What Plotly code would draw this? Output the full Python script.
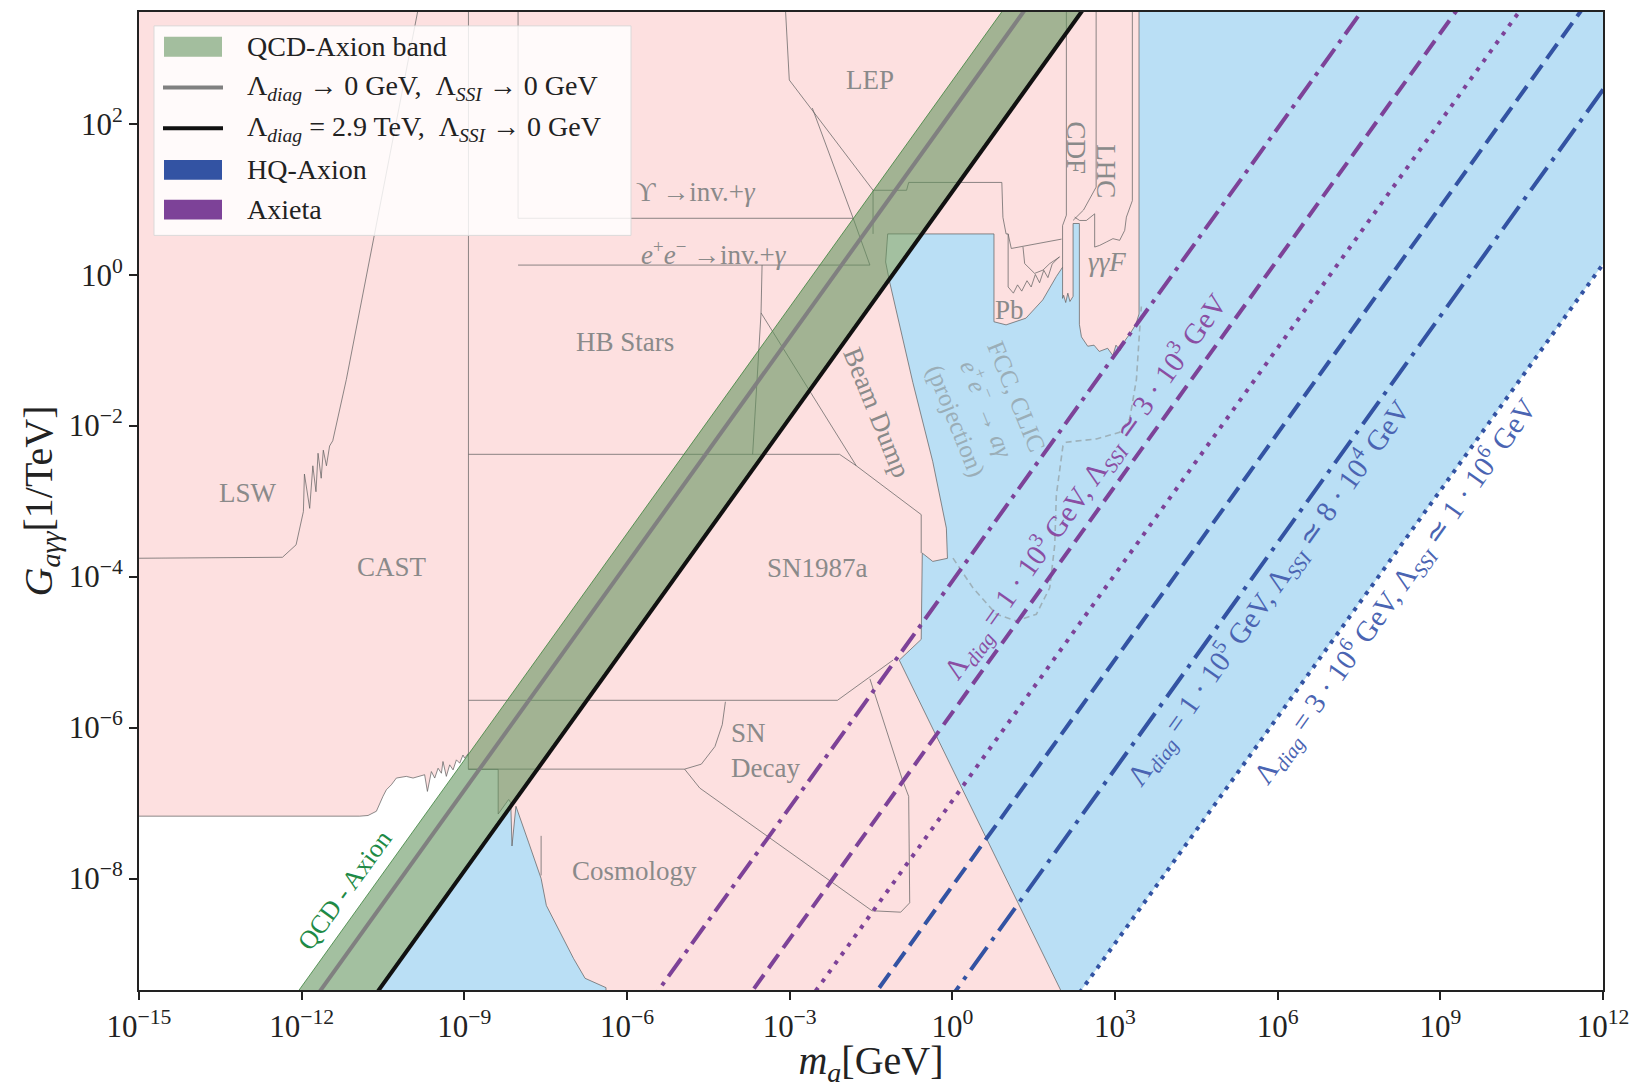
import numpy as np
import plotly.graph_objects as go

FONT = "Liberation Serif, Times New Roman, serif"

# ---------------- data (all values are log10) ----------------
X_RANGE = [-15.0, 12.0]      # log10 m_a [GeV]
Y_RANGE = [-9.477, 3.48]     # log10 G [1/TeV]
x_tick_exp = [-15, -12, -9, -6, -3, 0, 3, 6, 9, 12]
y_tick_exp = [-8, -6, -4, -2, 0, 2]

# straight lines: log10 G = log10 m + c
qcd_band_c = [1.13, 2.57]          # QCD-axion band edges
qcd_line_c = 2.17                  # Λdiag -> 0, ΛSSI -> 0
lambda29_c = 1.10                  # Λdiag = 2.9 TeV
axieta_c = [-4.06, -5.80, -6.97]   # dashdot, dash, dot
hq_c = [-8.10, -9.55, -11.86]      # dash, dashdot, dot

# excluded (pink) region outline
excl_m = [-15.2, 3.443, 3.443, 3.385, 3.289, 3.192, 3.096, 3.018, 2.961, 2.864, 2.709, 2.613, 2.497, 2.381, 2.343,
          2.343, 2.227, 2.227, 2.169, 2.130, 2.091, 2.053, 2.033, 2.033,
          1.918, 1.667, 1.358, 0.991, 0.768, 0.768, -1.192,
          -1.230, -1.153, -0.728, -0.361, -0.110, -0.090, -0.361, -0.554, -0.574, -0.979,
          2.08, -6.39,
          -6.387, -6.773, -6.985, -7.487, -7.584, -7.816, -8.048, -8.121, -8.144, -8.183,
          -8.376, -8.376, -8.926,
          -8.926, -8.994, -9.025, -9.085, -9.146, -9.208, -9.270, -9.332, -9.394, -9.423, -9.484, -9.546,
          -9.608, -9.681, -9.732, -9.822, -9.946, -10.070, -10.253, -10.346, -10.438, -10.500, -10.622,
          -10.776, -10.929, -15.2]
excl_g = [3.6, 3.6, -0.521, -0.658, -0.769, -0.865, -1.003, -0.934, -1.072, -0.975, -1.017, -0.934, -0.948, -0.824, -0.658,
          0.678, 0.678, -0.287, -0.355, -0.245, -0.369, -0.273, -0.314, 0.099,
          -0.025, -0.335, -0.576, -0.665, -0.624, 0.540, 0.540,
          0.168, -0.107, -1.430, -2.477, -3.358, -3.758, -3.799, -3.689, -4.832, -5.107,
          -9.6, -9.6,
          -9.446, -9.322, -9.061, -8.358, -8.0, -7.518, -7.043, -7.569, -6.994, -6.953,
          -7.146, -6.554, -6.554,
          -6.342, -6.406, -6.364, -6.472, -6.428, -6.561, -6.494, -6.647, -6.450, -6.605, -6.539, -6.669,
          -6.583, -6.846, -6.625, -6.647, -6.669, -6.647, -6.669, -6.758, -6.824, -6.910, -7.109,
          -7.165, -7.174, -7.174]

# internal boundaries between the excluded regions
lsw_m = [-15.2, -12.354, -12.103, -11.968, -11.949, -11.852, -11.794, -11.736, -11.698, -11.640, -11.601,
         -11.543, -11.485, -11.427, -11.176, -9.83]
lsw_g = [-3.758, -3.744, -3.579, -3.138, -2.642, -3.096, -2.532, -2.876, -2.366, -2.697, -2.325,
         -2.532, -2.270, -2.201, -1.388, 3.6]
cast_m = [-8.924, -8.924]
cast_g = [3.6, -6.342]
eebox_m = [-8.009, -8.009, -1.829, -1.520, -8.009]
eebox_g = [3.6, 0.747, 0.747, 0.127, 0.127]
upsbox_m = [-1.462, -1.462, -0.844, -0.805, 0.913, 0.933, 0.991, 1.029, 1.087, 2.014]
upsbox_g = [0.540, 1.118, 1.118, 1.222, 1.222, 0.760, 0.540, 0.540, 0.347, 0.471]
hb_m = [-3.509, -3.528, -3.683]
hb_g = [0.127, -0.507, -2.380]
sn87_m = [-8.924, -2.080, -1.771, -0.574, -0.574]
sn87_g = [-2.380, -2.380, -2.532, -3.179, -3.689]
bdump_m = [-3.528, -1.771]
bdump_g = [-0.507, -2.532]
lep1_m = [-3.084, -3.007, -1.462]
lep1_g = [3.6, 2.579, 1.118]
lep2_m = [-2.582, -1.829]
lep2_g = [2.207, 0.747]
pb1_m = [1.029, 1.029, 1.126, 1.203, 1.280, 1.377, 1.454, 1.531, 1.609, 1.686, 1.763, 1.841, 1.975]
pb1_g = [0.540, -0.163, -0.245, -0.135, -0.218, -0.080, -0.163, 0.003, -0.107, 0.058, -0.039, 0.140, 0.237]
pb2_m = [1.303, 1.334, 1.518, 1.672, 1.796, 1.980]
pb2_g = [0.368, 0.147, 0.017, 0.061, 0.147, 0.236]
cdf_m = [2.103, 2.103, 2.033, 2.033]
cdf_g = [3.6, 0.788, 0.650, 0.099]
lhc1_m = [2.652, 2.652, 2.420, 2.227]
lhc1_g = [3.6, 1.160, 0.857, 0.719]
lhc2_m = [3.320, 3.320, 3.210, 3.179, 3.086, 2.962, 2.841, 2.717, 2.625, 2.625, 2.472, 2.348, 2.256]
lhc2_g = [3.6, 0.981, 0.762, 0.587, 0.455, 0.477, 0.433, 0.388, 0.366, 0.806, 0.718, 0.718, 0.762]
sndec1_m = [-8.924, -2.119, -1.095]
sndec1_g = [-5.639, -5.639, -5.107]
sndec2_m = [-8.924, -4.938, -4.629, -4.378, -4.243, -4.185]
sndec2_g = [-6.551, -6.551, -6.485, -6.251, -5.961, -5.658]
sndec3_m = [-4.938, -4.658, -1.481, -0.952, -0.786, -0.805, -0.921, -1.520]
sndec3_g = [-6.551, -6.802, -8.427, -8.446, -8.322, -6.912, -6.692, -5.355]
cosmo_m = [-7.584, -7.584]
cosmo_g = [-7.435, -7.959]

# FCC / CLIC projection (dashed)
fcc_m = [0.012, 0.380, 0.813, 1.182, 1.549, 1.796, 1.889, 1.918, 2.041, 2.103, 2.658, 3.086, 3.271, 3.395, 3.455, 3.486]
fcc_g = [-3.755, -4.149, -4.500, -4.587, -4.500, -4.149, -3.579, -2.921, -2.264, -2.219, -2.176, -2.088, -1.913,
         -1.387, -0.729, -0.421]

# region labels: text, log m, log G, angle
region_labels = [
    ("LSW", -12.99, -2.886, 0),
    ("CAST", -10.33, -3.877, 0),
    ("HB Stars", -6.04, -0.893, 0),
    ("SN1987a", -2.48, -3.886, 0),
    ("LEP", -1.52, 2.581, 0),
    ("ϒ →inv.+<i>γ</i>", -4.73, 1.091, 0),
    ("<i>e</i><sup>+</sup><i>e</i><sup>−</sup> →inv.+<i>γ</i>", -4.40, 0.292, 0),
    ("Beam Dump", -1.40, -1.825, 68),
    ("CDF", 2.287, 1.68, 90),
    ("LHC", 2.841, 1.366, 90),
    ("<i>γγF</i>", 2.85, 0.170, 0),
    ("Pb", 1.058, -0.466, 0),
    ("Cosmology", -5.854, -7.898, 0),
]

# ---------------- helpers ----------------
def clip_polygon(pts, xmin, xmax, ymin, ymax):
    def clip(pts, inside, inter):
        out = []
        for i in range(len(pts)):
            cur, prev = pts[i], pts[i - 1]
            if inside(cur):
                if not inside(prev):
                    out.append(inter(prev, cur))
                out.append(cur)
            elif inside(prev):
                out.append(inter(prev, cur))
        return out

    def ix(p, q, x):
        t = (x - p[0]) / (q[0] - p[0])
        return (x, p[1] + t * (q[1] - p[1]))

    def iy(p, q, y):
        t = (y - p[1]) / (q[1] - p[1])
        return (p[0] + t * (q[0] - p[0]), y)

    pts = clip(pts, lambda p: p[0] >= xmin, lambda p, q: ix(p, q, xmin))
    pts = clip(pts, lambda p: p[0] <= xmax, lambda p, q: ix(p, q, xmax))
    pts = clip(pts, lambda p: p[1] >= ymin, lambda p, q: iy(p, q, ymin))
    pts = clip(pts, lambda p: p[1] <= ymax, lambda p, q: iy(p, q, ymax))
    return pts


PAD = 0.25
BX = (X_RANGE[0] - PAD, X_RANGE[1] + PAD, Y_RANGE[0] - PAD, Y_RANGE[1] + PAD)


def band(c_lo, c_hi):
    L = 40
    poly = [(-L, -L + c_hi), (L, L + c_hi), (L, L + c_lo), (-L, -L + c_lo)]
    pts = clip_polygon(poly, *BX)
    pts.append(pts[0])
    xs = 10 ** np.array([p[0] for p in pts])
    ys = 10 ** np.array([p[1] for p in pts])
    return xs, ys


def diag_line(c):
    x0 = max(BX[0], BX[2] - c)
    x1 = min(BX[1], BX[3] - c)
    m = np.array([x0, x1])
    return 10 ** m, 10 ** (m + c)


def join(*pairs):
    xs, ys = [], []
    for m, g in pairs:
        xs += list(10 ** np.array(m, dtype=float)) + [None]
        ys += list(10 ** np.array(g, dtype=float)) + [None]
    return xs, ys


PINK = "#fde0e0"
BLUE_FILL = "#badff5"
EDGE = "rgba(95,95,95,0.9)"
PURPLE = "#7d4298"
BLUE = "#3353a3"
GREEN_FILL = "rgba(97,147,91,0.58)"
GREY_TXT = "#8a8a8a"

fig = go.Figure()

# blue allowed band (HQ / axieta parameter space)
bx, by = band(hq_c[2], lambda29_c)
fig.add_trace(go.Scatter(x=bx, y=by, fill="toself", fillcolor=BLUE_FILL, line=dict(width=0),
                         mode="lines", hoverinfo="skip", showlegend=False))

# excluded region
fig.add_trace(go.Scatter(x=10 ** np.array(excl_m), y=10 ** np.array(excl_g), fill="toself", fillcolor=PINK,
                         mode="lines", line=dict(color=EDGE, width=0.8), hoverinfo="skip", showlegend=False))

ix_, iy_ = join((lsw_m, lsw_g), (cast_m, cast_g), (eebox_m, eebox_g), (upsbox_m, upsbox_g), (hb_m, hb_g),
                (sn87_m, sn87_g), (bdump_m, bdump_g), (lep1_m, lep1_g), (lep2_m, lep2_g), (pb1_m, pb1_g),
                (pb2_m, pb2_g), (cdf_m, cdf_g), (lhc1_m, lhc1_g), (lhc2_m, lhc2_g), (sndec1_m, sndec1_g),
                (sndec2_m, sndec2_g), (sndec3_m, sndec3_g), (cosmo_m, cosmo_g))
fig.add_trace(go.Scatter(x=ix_, y=iy_, mode="lines", line=dict(color=EDGE, width=0.8), connectgaps=False,
                         hoverinfo="skip", showlegend=False))

# FCC projection
fig.add_trace(go.Scatter(x=10 ** np.array(fcc_m), y=10 ** np.array(fcc_g), mode="lines",
                         line=dict(color="#9db1ba", width=1.6, dash="6px,4px"), hoverinfo="skip",
                         showlegend=False))

# QCD axion band
gx, gy = band(qcd_band_c[0], qcd_band_c[1])
fig.add_trace(go.Scatter(x=gx, y=gy, fill="toself", fillcolor=GREEN_FILL, mode="lines",
                         line=dict(color="rgba(60,130,60,0.8)", width=1), hoverinfo="skip",
                         name="QCD-Axion band", showlegend=False))

lx, ly = diag_line(qcd_line_c)
fig.add_trace(go.Scatter(x=lx, y=ly, mode="lines", line=dict(color="#808080", width=4), showlegend=False))
lx, ly = diag_line(lambda29_c)
fig.add_trace(go.Scatter(x=lx, y=ly, mode="lines", line=dict(color="#111111", width=4), showlegend=False))

axieta_dash = ["22px,7px,4px,7px", "17px,8px", "4px,7px"]
hq_dash = ["18px,8px", "28px,8px,4px,8px", "4px,6px"]
for c, d in zip(axieta_c, axieta_dash):
    lx, ly = diag_line(c)
    fig.add_trace(go.Scatter(x=lx, y=ly, mode="lines", line=dict(color=PURPLE, width=4, dash=d),
                             showlegend=False, hoverinfo="skip"))
for c, d in zip(hq_c, hq_dash):
    lx, ly = diag_line(c)
    fig.add_trace(go.Scatter(x=lx, y=ly, mode="lines", line=dict(color=BLUE, width=4, dash=d),
                             showlegend=False, hoverinfo="skip"))

# ---------------- annotations ----------------
ann = []
for txt, m, g, ang in region_labels:
    ann.append(dict(x=m, y=g, xref="x", yref="y", text=txt, showarrow=False, textangle=ang,
                    font=dict(family=FONT, size=27, color=GREY_TXT)))
ann.append(dict(x=-4.127, y=-6.298, xref="x", yref="y", text="SN<br>Decay", showarrow=False, xanchor="left",
                align="left", font=dict(family=FONT, size=27, color=GREY_TXT)))
ann.append(dict(x=0.628, y=-1.781, xref="x", yref="y",
                text="FCC, CLIC<br><i>e</i><sup>+</sup><i>e</i><sup>−</sup> → <i>aγ</i><br>(projection)",
                showarrow=False, textangle=68, font=dict(family=FONT, size=25, color="#9aaeb8")))
ann.append(dict(x=-11.207, y=-8.161, xref="x", yref="y", text="QCD - Axion", showarrow=False, textangle=-54,
                font=dict(family=FONT, size=26, color="#1e8a46")))
ann.append(dict(x=2.456, y=-2.811, xref="x", yref="y", textangle=-54.5, showarrow=False,
                text="Λ<sub><i>diag</i></sub> = 1 · 10<sup>3</sup> GeV, Λ<sub><i>SSI</i></sub> ≃ 3 · 10<sup>3</sup> GeV",
                font=dict(family=FONT, size=29, color="#8a4ea3")))
ann.append(dict(x=5.840, y=-4.215, xref="x", yref="y", textangle=-54.5, showarrow=False,
                text="Λ<sub><i>diag</i></sub> = 1 · 10<sup>5</sup> GeV, Λ<sub><i>SSI</i></sub> ≃ 8 · 10<sup>4</sup> GeV",
                font=dict(family=FONT, size=29, color="#4a64b2")))
ann.append(dict(x=8.155, y=-4.191, xref="x", yref="y", textangle=-54.5, showarrow=False,
                text="Λ<sub><i>diag</i></sub> = 3 · 10<sup>6</sup> GeV, Λ<sub><i>SSI</i></sub> ≃ 1 · 10<sup>6</sup> GeV",
                font=dict(family=FONT, size=29, color="#4a64b2")))

# ---------------- legend (drawn box) ----------------
PL, PT, PW, PH = 139, 10, 1464, 985


def px(x):
    return (x - PL) / PW


def py(y):
    return 1 - (y - PT) / PH


shapes = [dict(type="rect", xref="paper", yref="paper", x0=px(154), x1=px(631), y0=py(235), y1=py(24),
               fillcolor="rgba(255,255,255,0.82)", line=dict(color="rgba(215,215,215,0.9)", width=1),
               layer="above")]
legend_items = [
    ("patch", GREEN_FILL, "QCD-Axion band"),
    ("line", "#808080", "Λ<sub><i>diag</i></sub> → 0 GeV,  Λ<sub><i>SSI</i></sub> → 0 GeV"),
    ("line", "#111111", "Λ<sub><i>diag</i></sub> = 2.9 TeV,  Λ<sub><i>SSI</i></sub> → 0 GeV"),
    ("patch", BLUE, "HQ-Axion"),
    ("patch", PURPLE, "Axieta"),
]
row_y = [45, 86, 127, 169, 209]
for (kind, col, label), ry in zip(legend_items, row_y):
    if kind == "patch":
        shapes.append(dict(type="rect", xref="paper", yref="paper", x0=px(164), x1=px(222), y0=py(ry + 10),
                           y1=py(ry - 10), fillcolor=col, line=dict(width=0), layer="above"))
    else:
        shapes.append(dict(type="line", xref="paper", yref="paper", x0=px(163), x1=px(223), y0=py(ry),
                           y1=py(ry), line=dict(color=col, width=4), layer="above"))
    ann.append(dict(x=px(245), y=py(ry), xref="paper", yref="paper", text=label, showarrow=False,
                    xanchor="left", yanchor="middle", font=dict(family=FONT, size=28, color="#222222")))


def exp_label(e):
    s = str(e).replace("-", "−")
    return f"10<sup>{s}</sup>"


axis_common = dict(type="log", showgrid=False, zeroline=False, showline=True, mirror=True, linecolor="#222222",
                   linewidth=2, ticks="outside", ticklen=8, tickwidth=1.5, tickcolor="#222222",
                   tickfont=dict(family=FONT, size=31, color="#222222"))

fig.update_layout(
    width=1642, height=1088,
    margin=dict(l=PL, r=1642 - PL - PW, t=PT, b=1088 - PT - PH),
    plot_bgcolor="white", paper_bgcolor="white",
    showlegend=False,
    font=dict(family=FONT),
    xaxis=dict(range=X_RANGE, tickvals=[10.0 ** e for e in x_tick_exp],
               ticktext=[exp_label(e) for e in x_tick_exp],
               title=dict(text="<i>m</i><sub><i>a</i></sub>[GeV]", font=dict(family=FONT, size=40, color="#222222"),
                          standoff=6),
               **axis_common),
    yaxis=dict(range=Y_RANGE, tickvals=[10.0 ** e for e in y_tick_exp],
               ticktext=[exp_label(e) for e in y_tick_exp],
               title=dict(text="<i>G</i><sub><i>aγγ</i></sub>[1/TeV]", font=dict(family=FONT, size=40, color="#222222"),
                          standoff=4),
               **axis_common),
    shapes=shapes,
    annotations=ann,
)

fig.write_html("out.html")
